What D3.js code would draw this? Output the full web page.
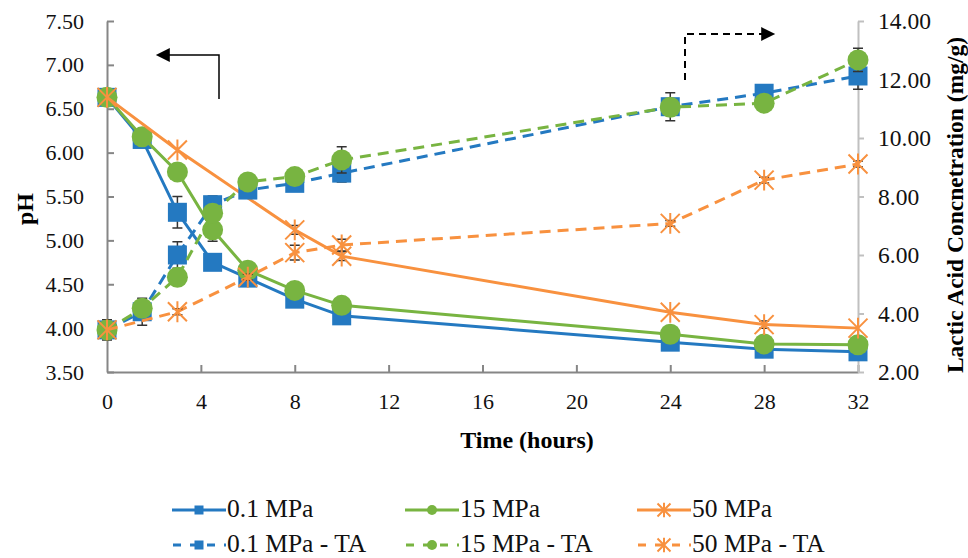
<!DOCTYPE html>
<html>
<head>
<meta charset="utf-8">
<script src="https://cdn.jsdelivr.net/npm/d3@7"></script>
<style>
  body{margin:0;background:#fff;}
  svg{display:block;}
  svg text{font-family:"Liberation Serif",serif;}
</style>
</head>
<body>
<svg id="chart" width="968" height="558"></svg>
<script>
// sampling times (hours)
var times=[0,1.5,3,4.5,6,8,10,24,28,32];

// pH, left axis (null = no point at that time)
var phLow=[6.63,6.15,5.32,4.75,4.57,4.33,4.14,3.84,3.76,3.73];
var phMid=[6.63,6.18,5.78,5.12,4.66,4.43,4.26,3.93,3.82,3.81];
var phHigh=[6.63,null,6.03,null,null,5.12,4.82,4.18,4.04,4.00];

// lactic acid (mg/g), right axis
var laLow=[3.44,4.06,6.00,7.72,8.22,8.45,8.80,11.07,11.53,12.12];
var laMid=[3.44,4.18,5.24,7.43,8.50,8.68,9.25,11.05,11.19,12.67];
var laHigh=[3.44,null,4.06,null,5.24,6.08,6.34,7.08,8.56,9.11];

// error bars (same units as the series)
var phLowErr=[0,0,0.18,0,0,0,0,0,0,0];
var phMidErr=[0,0,0,0.13,0,0,0,0,0,0];
var phHighErr=[0,0,0,0,0,0.05,0.05,0,0.04,0];
var laLowErr=[0.35,0.46,0.45,0.3,0,0,0.3,0.48,0,0.45];
var laMidErr=[0,0,0,0,0,0,0.45,0,0,0.4];
var laHighErr=[0,0,0.1,0,0.1,0.25,0.2,0.1,0.1,0.1];

var xTicks=[0,4,8,12,16,20,24,28,32];
var phTicks=[3.5,4,4.5,5,5.5,6,6.5,7,7.5];
var laTicks=[2,4,6,8,10,12,14];

var seriesNames=['0.1 MPa','15 MPa','50 MPa','0.1 MPa - TA','15 MPa - TA','50 MPa - TA'];

var blue='#2479c1';
var green='#78b441';
var orange='#f8913f';

var svg=d3.select('#chart');

var x=d3.scaleLinear().domain([0,32]).range([107,858]);
var yL=d3.scaleLinear().domain([3.5,7.5]).range([372,21]);
var yR=d3.scaleLinear().domain([2,14]).range([372,21]);

// axes
var leftAxis=svg.append('g')
    .attr('transform','translate(107,0)')
    .call(d3.axisLeft(yL).tickValues(phTicks).tickSize(-7).tickSizeOuter(0).tickPadding(23)
        .tickFormat(d3.format('.2f')));
var bottomAxis=svg.append('g')
    .attr('transform','translate(0,372)')
    .call(d3.axisBottom(x).tickValues(xTicks).tickSize(-7).tickSizeOuter(0).tickPadding(21));
var rightAxis=svg.append('g')
    .attr('transform','translate(858,0)')
    .call(d3.axisRight(yR).tickValues(laTicks).tickSize(6).tickSizeOuter(0).tickPadding(14)
        .tickFormat(d3.format('.2f')));

[leftAxis,bottomAxis,rightAxis].forEach(function(g){
    g.attr('font-family',null).attr('font-size',null);
    g.selectAll('path,line').attr('stroke','#868686').attr('stroke-width',2);
    g.selectAll('text').attr('font-size',22).attr('fill','#111');
});
rightAxis.selectAll('path,line').attr('stroke','#c0c0c0');
rightAxis.selectAll('text').attr('font-size',23.5);
bottomAxis.select('.tick').select('line').remove();

// titles
svg.append('text')
    .attr('transform','translate(25,209) rotate(-90)')
    .attr('text-anchor','middle')
    .attr('dominant-baseline','central')
    .attr('font-size',24).attr('font-weight','bold')
    .text('pH');
svg.append('text')
    .attr('transform','translate(955,205) rotate(-90)')
    .attr('text-anchor','middle')
    .attr('dominant-baseline','central')
    .attr('font-size',23.5).attr('font-weight','bold')
    .text('Lactic Acid Concnetration (mg/g)');
svg.append('text')
    .attr('x',527).attr('y',448)
    .attr('text-anchor','middle')
    .attr('font-size',24).attr('font-weight','bold')
    .text('Time (hours)');

// direction arrows
svg.append('defs').append('marker')
    .attr('id','head')
    .attr('viewBox','0 0 10 10')
    .attr('refX',2).attr('refY',5)
    .attr('markerWidth',16).attr('markerHeight',14)
    .attr('markerUnits','userSpaceOnUse')
    .attr('orient','auto')
    .append('path').attr('d','M0,0L10,5L0,10Z').attr('fill','#000');

svg.append('path')
    .attr('d','M219,99V55H167')
    .attr('fill','none').attr('stroke','#000').attr('stroke-width',1.5)
    .attr('marker-end','url(#head)');
svg.append('path')
    .attr('d','M685,80V34H764')
    .attr('fill','none').attr('stroke','#000').attr('stroke-width',2)
    .attr('stroke-dasharray','7,5')
    .attr('marker-end','url(#head)');

// marker shapes
function drawMarker(g,type,cx,cy,size,color){
    if(type=='square'){
        g.append('rect')
            .attr('x',cx-size/2).attr('y',cy-size/2)
            .attr('width',size).attr('height',size)
            .attr('fill',color);
    }
    else if(type=='circle'){
        g.append('circle')
            .attr('cx',cx).attr('cy',cy).attr('r',size/2)
            .attr('fill',color);
    }
    else{
        var h=size/2;
        g.append('path')
            .attr('d','M'+(cx-h)+','+(cy-h)+'L'+(cx+h)+','+(cy+h)+
                'M'+(cx-h)+','+(cy+h)+'L'+(cx+h)+','+(cy-h)+
                'M'+cx+','+(cy-h*1.1)+'L'+cx+','+(cy+h*1.1))
            .attr('stroke',color).attr('stroke-width',2).attr('fill','none');
    }
}

var series=[
    {name:seriesNames[0],values:phLow,err:phLowErr,y:yL,color:blue,marker:'square',dash:null},
    {name:seriesNames[1],values:phMid,err:phMidErr,y:yL,color:green,marker:'circle',dash:null},
    {name:seriesNames[2],values:phHigh,err:phHighErr,y:yL,color:orange,marker:'star',dash:null},
    {name:seriesNames[3],values:laLow,err:laLowErr,y:yR,color:blue,marker:'square',dash:'11,7'},
    {name:seriesNames[4],values:laMid,err:laMidErr,y:yR,color:green,marker:'circle',dash:'11,7'},
    {name:seriesNames[5],values:laHigh,err:laHighErr,y:yR,color:orange,marker:'star',dash:'11,7'}
];

var markerSize={square:19,circle:21,star:19};

series.forEach(function(s){
    var pts=times.map(function(t,i){return {t:t,v:s.values[i],e:s.err[i]};})
        .filter(function(d){return d.v!=null;});
    var g=svg.append('g');
    var line=d3.line()
        .x(function(d){return x(d.t);})
        .y(function(d){return s.y(d.v);});
    g.append('path')
        .datum(pts)
        .attr('d',line)
        .attr('fill','none')
        .attr('stroke',s.color)
        .attr('stroke-width',3)
        .attr('stroke-dasharray',s.dash);
    pts.forEach(function(d){
        if(!d.e){return;}
        var cx=x(d.t);
        var y0=s.y(d.v-d.e);
        var y1=s.y(d.v+d.e);
        g.append('path')
            .attr('d','M'+cx+','+y0+'V'+y1+'M'+(cx-5)+','+y0+'H'+(cx+5)+'M'+(cx-5)+','+y1+'H'+(cx+5))
            .attr('stroke','#333').attr('stroke-width',1.5).attr('fill','none');
    });
    pts.forEach(function(d){
        drawMarker(g,s.marker,x(d.t),s.y(d.v),markerSize[s.marker],s.color);
    });
});

// legend
var legendCols=[172,405,637];
var legendRows=[510,545];
series.forEach(function(s,i){
    var lx=legendCols[i%3];
    var ly=legendRows[Math.floor(i/3)];
    var g=svg.append('g');
    g.append('line')
        .attr('x1',lx).attr('x2',lx+54)
        .attr('y1',ly).attr('y2',ly)
        .attr('stroke',s.color).attr('stroke-width',3)
        .attr('stroke-dasharray',s.dash?'8,9':null)
        .attr('stroke-dashoffset',s.dash?-1:null);
    drawMarker(g,s.marker,lx+27,ly,s.marker=='star'?13:(s.marker=='circle'?10:9),s.color);
    g.append('text')
        .attr('x',lx+55).attr('y',ly+7)
        .attr('font-size',25.5)
        .attr('fill','#111')
        .text(s.name);
});
</script>
</body>
</html>
